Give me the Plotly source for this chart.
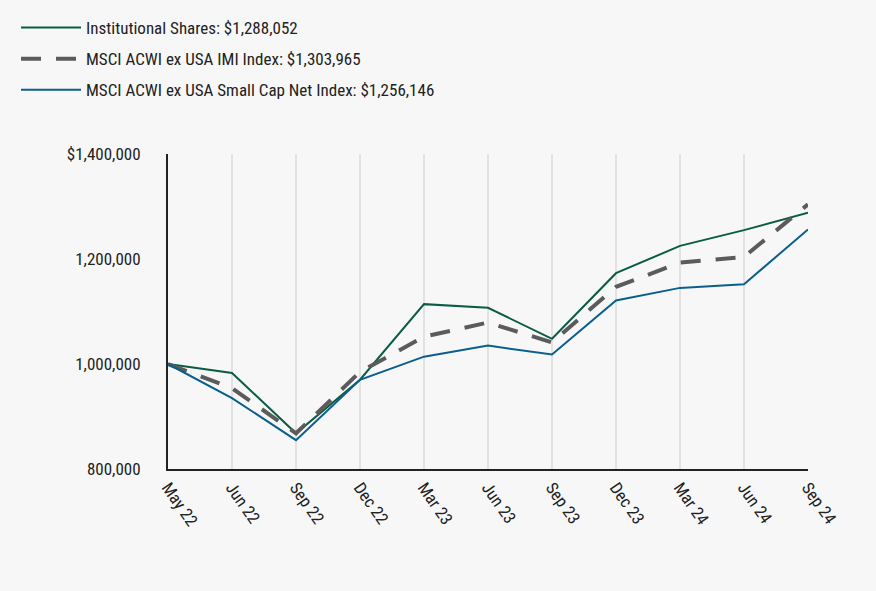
import plotly.graph_objects as go

categories = ["May 22", "Jun 22", "Sep 22", "Dec 22", "Mar 23", "Jun 23",
              "Sep 23", "Dec 23", "Mar 24", "Jun 24", "Sep 24"]

institutional = [1000000, 983000, 868000, 970000, 1114000, 1107000,
                 1048000, 1173000, 1225000, 1255000, 1288052]
imi_index = [1000000, 954000, 868000, 985000, 1052000, 1079000,
             1041000, 1147000, 1193000, 1204000, 1303965]
small_cap = [1000000, 935000, 855000, 970000, 1014000, 1035000,
             1018000, 1121000, 1145000, 1152000, 1256146]

names = ["Institutional Shares: $1,288,052",
         "MSCI ACWI ex USA IMI Index: $1,303,965",
         "MSCI ACWI ex USA Small Cap Net Index: $1,256,146"]

tick_vals = [800000, 1000000, 1200000, 1400000]
tick_text = ["800,000", "1,000,000", "1,200,000", "$1,400,000"]

FONT = "Liberation Sans Narrow, Roboto Condensed, Arial Narrow, sans-serif"
BG = "#f7f7f7"

fig = go.Figure()
fig.add_trace(go.Scatter(x=categories, y=institutional, name=names[0], mode="lines",
                         legendgroup="a",
                         line=dict(color="#0b5c47", width=2)))
fig.add_trace(go.Scatter(x=categories, y=imi_index, name=names[1], mode="lines",
                         legendgroup="b",
                         line=dict(color="#5b5b5b", width=4, dash="20px,15px")))
fig.add_trace(go.Scatter(x=categories, y=small_cap, name=names[2], mode="lines",
                         legendgroup="c",
                         line=dict(color="#0a5f8c", width=2)))

fig.update_layout(
    width=876, height=591,
    paper_bgcolor=BG, plot_bgcolor=BG,
    margin=dict(l=168, r=68, t=154, b=122, autoexpand=False),
    font=dict(family=FONT, size=17, color="#222222"),
    showlegend=True,
    legend=dict(xref="container", yref="container", x=16/876, y=1 - 10/591,
                xanchor="left", yanchor="top", traceorder="grouped",
                bgcolor="rgba(0,0,0,0)", font=dict(size=17, family=FONT),
                itemwidth=60, tracegroupgap=6),
    xaxis=dict(type="category", showgrid=True, gridcolor="#e2e2e2", gridwidth=2,
               showline=True, linecolor="#222222", linewidth=2,
               tickangle=55, ticks="", range=[0, 10],
               tickfont=dict(size=17, family=FONT)),
    yaxis=dict(range=[800000, 1400000], tickvals=tick_vals, ticktext=tick_text,
               showgrid=False, zeroline=False, showline=True,
               linecolor="#222222", linewidth=2, ticks="",
               ticklabelstandoff=22,
               tickfont=dict(size=17, family=FONT)),
)

fig.write_html("out.html", config={"displayModeBar": False},
               post_script="document.body.style.margin='0';")
